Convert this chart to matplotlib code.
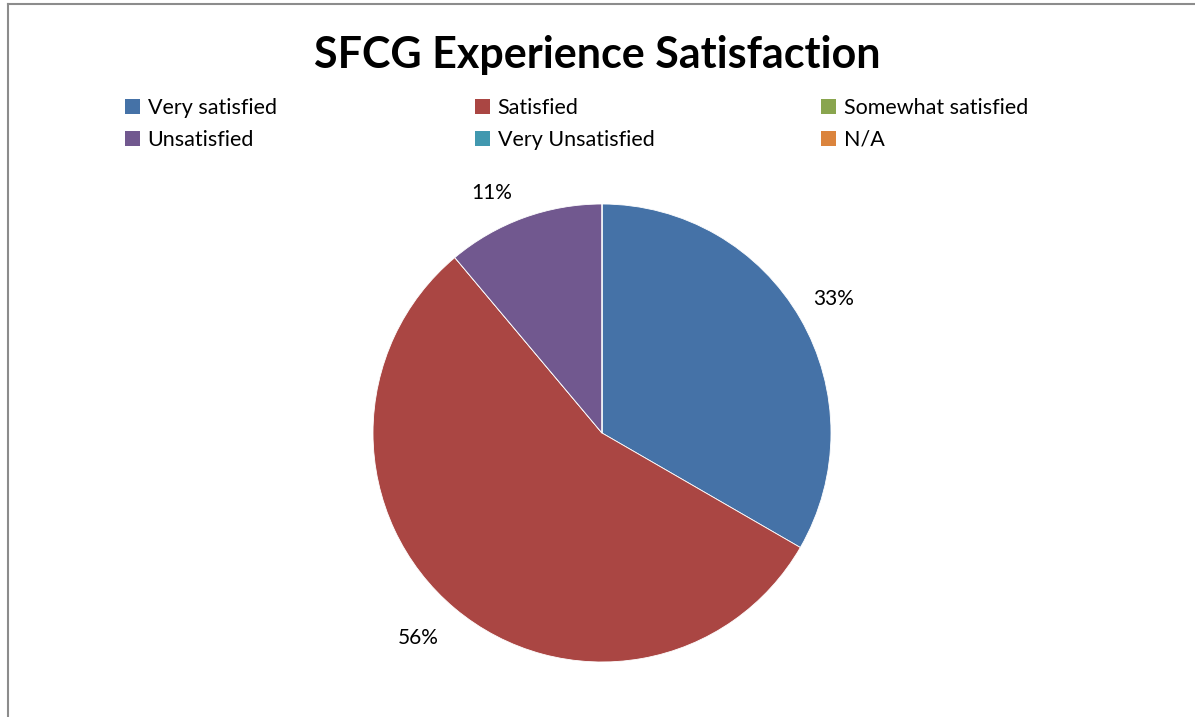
import matplotlib
matplotlib.use("Agg")
import matplotlib.pyplot as plt
from matplotlib.lines import Line2D

plt.rcParams["font.family"] = ["Lato", "DejaVu Sans"]

# data
labels = ["Very satisfied", "Satisfied", "Somewhat satisfied",
          "Unsatisfied", "Very Unsatisfied", "N/A"]
counts = [3, 5, 0, 1, 0, 0]
colors = ["#4572A7", "#AA4643", "#89A54E", "#71588F", "#4198AF", "#DB843D"]

W, H = 1195, 717
fig = plt.figure(figsize=(W / 100, H / 100), dpi=100)
fig.patch.set_facecolor("white")

# chart frame (left + top edges visible)
fig.add_artist(Line2D([8 / W, 8 / W], [0, 1 - 4 / H], color="#8c8c8c", linewidth=1.5))
fig.add_artist(Line2D([8 / W, 1], [1 - 4 / H, 1 - 4 / H], color="#8c8c8c", linewidth=1.5))

# pie axes
cx, cy, r = 602, 433, 229
ax = fig.add_axes([(cx - r) / W, 1 - (cy + r) / H, 2 * r / W, 2 * r / H])
ax.axis("off")

wedges, _, autotexts = ax.pie(
    counts, colors=colors, startangle=90, counterclock=False, radius=1,
    autopct=lambda p: f"{p:.0f}%" if p > 0 else "", pctdistance=1.17,
    wedgeprops=dict(edgecolor="white", linewidth=0.6),
    textprops=dict(fontsize=15, color="black"))
ax.set_xlim(-1, 1)
ax.set_ylim(-1, 1)
ax.set_aspect("equal")

# nudge labels outward the way Excel anchors them
for t in autotexts:
    x, y = t.get_position()
    if t.get_text() == "11%":
        t.set_position((x - 0.08, y - 0.05))
    elif t.get_text() == "56%":
        t.set_position((x - 0.05, y))

fig.text(0.5, 1 - 55 / H, "SFCG Experience Satisfaction", ha="center", va="center",
         fontsize=31, fontweight="bold")

# legend: three uniform columns, two rows
col_x = [110, 460, 806]
for j in range(3):
    idx = [j, j + 3]
    leg = fig.legend([wedges[i] for i in idx], [labels[i] for i in idx],
                     loc="upper left", bbox_to_anchor=(col_x[j] / W, 1 - 83 / H),
                     frameon=False, fontsize=15.5, handlelength=0.7, handleheight=0.7,
                     handletextpad=0.35, labelspacing=0.55, borderpad=0.2)
    for h in leg.legend_handles:
        h.set_edgecolor("none")

fig.savefig("out.png", dpi=100)
